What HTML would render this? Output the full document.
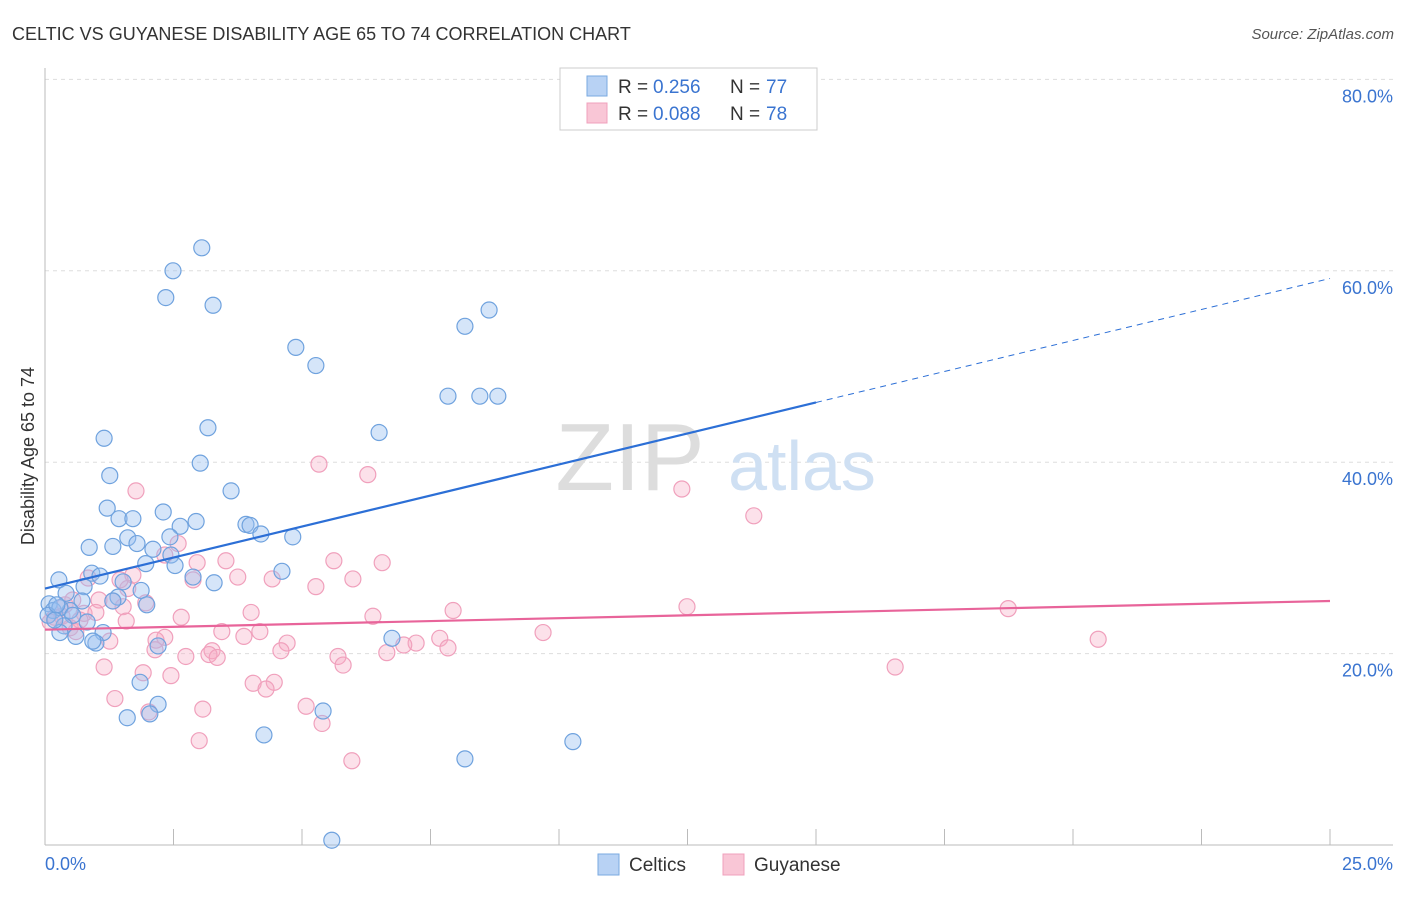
<!DOCTYPE html>
<html><head><meta charset="utf-8"><style>
body{margin:0;background:#fff;font-family:"Liberation Sans",sans-serif}
svg text{font-family:"Liberation Sans",sans-serif}
</style></head><body>
<svg width="1406" height="892" xmlns="http://www.w3.org/2000/svg">
<text x="12" y="40" font-size="18" fill="#333">CELTIC VS GUYANESE DISABILITY AGE 65 TO 74 CORRELATION CHART</text>
<text x="1394" y="39" font-size="15" fill="#555" font-style="italic" text-anchor="end">Source: ZipAtlas.com</text>
<g id="grid"></g>
<text x="630" y="490" font-size="96" fill="#ddd" font-family="Liberation Serif" text-anchor="middle">ZIP</text>
<text x="802" y="490" font-size="70" fill="#cfe0f3" text-anchor="middle">atlas</text>
<g id="pts"></g>
<g id="lines"></g>
<text transform="translate(34,456) rotate(-90)" font-size="18" fill="#333" text-anchor="middle">Disability Age 65 to 74</text>
<text x="45" y="870" font-size="18" fill="#3a74d0">0.0%</text>
<text x="1393" y="870" font-size="18" fill="#3a74d0" text-anchor="end">25.0%</text>
<g>
<rect x="560" y="68" width="257" height="62" fill="#fff" stroke="#ccc"/>
<rect x="587" y="76" width="20" height="20" fill="#b8d2f4" stroke="#7aaae0"/>
<rect x="587" y="103" width="20" height="20" fill="#f9c6d6" stroke="#f0a0bc"/>
<text x="618" y="93" font-size="19" fill="#333">R =</text>
<text x="653" y="93" font-size="19" fill="#3a74d0">0.256</text>
<text x="730" y="93" font-size="19" fill="#333">N =</text>
<text x="766" y="93" font-size="19" fill="#3a74d0">77</text>
<text x="618" y="120" font-size="19" fill="#333">R =</text>
<text x="653" y="120" font-size="19" fill="#3a74d0">0.088</text>
<text x="730" y="120" font-size="19" fill="#333">N =</text>
<text x="766" y="120" font-size="19" fill="#3a74d0">78</text>
</g>
<g>
<rect x="598" y="854" width="21" height="21" fill="#b8d2f4" stroke="#7aaae0"/>
<text x="629" y="871" font-size="19" fill="#333">Celtics</text>
<rect x="723" y="854" width="21" height="21" fill="#f9c6d6" stroke="#f0a0bc"/>
<text x="754" y="871" font-size="19" fill="#333">Guyanese</text>
</g>
</svg>
<script>
const blueX=[3.05,2.49,2.35,3.27,8.64,8.17,4.88,5.27,7.84,8.46,8.81,1.15,3.17,6.50,3.02,1.26,3.62,1.21,2.30,1.44,1.71,2.94,2.63,3.91,3.99,4.20,4.82,2.43,1.61,0.86,1.32,1.79,2.10,2.45,1.96,2.53,4.61,2.88,3.29,0.91,1.07,1.52,1.87,0.27,0.76,0.41,1.42,1.32,0.72,1.98,0.49,0.08,0.16,0.29,0.54,0.82,0.37,1.13,0.29,0.60,0.99,0.93,6.75,2.20,1.85,2.20,1.60,2.04,4.26,5.41,10.27,8.17,5.58,0.06,0.19,0.23];
const blueY=[62.4,60.0,57.2,56.4,55.9,54.2,52.0,50.1,46.9,46.9,46.9,42.5,43.6,43.1,39.9,38.6,37.0,35.2,34.8,34.1,34.1,33.8,33.3,33.5,33.4,32.5,32.2,32.2,32.1,31.1,31.2,31.5,30.9,30.3,29.4,29.2,28.6,28.0,27.4,28.4,28.1,27.5,26.6,27.7,27.0,26.3,25.9,25.5,25.5,25.1,24.5,25.2,24.5,24.8,24.0,23.3,22.9,22.2,22.2,21.8,21.1,21.3,21.6,20.8,17.0,14.7,13.3,13.7,11.5,14.0,10.8,9.0,0.5,24.0,23.5,25.1];
const pinkX=[5.33,6.28,12.39,1.77,13.79,2.59,3.52,2.96,5.62,6.56,2.33,3.75,2.88,4.42,5.99,5.27,1.71,0.84,1.61,1.05,1.32,1.52,1.96,2.65,4.01,6.38,7.94,12.49,18.74,1.58,0.76,3.44,4.18,2.33,2.16,3.87,4.71,7.22,7.68,7.84,9.69,20.49,2.14,3.25,3.19,2.74,4.59,5.70,6.65,6.98,3.35,5.80,1.15,1.91,2.45,4.05,4.46,4.30,16.54,1.36,5.08,3.07,2.02,5.39,3.00,5.97,0.33,0.49,0.60,0.99,0.68,0.19,0.39,0.10,1.26,1.46,0.54];
const pinkY=[39.8,38.7,37.2,37.0,34.4,31.5,29.7,29.5,29.7,29.5,30.3,28.0,27.7,27.8,27.8,27.0,28.2,27.9,26.8,25.6,25.5,24.9,25.3,23.8,24.3,23.9,24.5,24.9,24.7,23.4,24.2,22.3,22.3,21.7,21.4,21.8,21.1,21.1,21.6,20.6,22.2,21.5,20.4,20.3,19.9,19.7,20.3,19.7,20.1,20.9,19.6,18.8,18.6,18.0,17.7,16.9,17.0,16.3,18.6,15.3,14.5,14.2,13.9,12.7,10.9,8.8,23.9,22.7,22.3,24.3,23.5,23.8,25.1,23.3,21.3,27.7,25.6];
const blueTrend=[26.8,59.2];
const pinkTrend=[22.5,25.5];
const yTicks=[20,40,60,80];
const yTickLabels=["20.0%","40.0%","60.0%","80.0%"];
const xTicks=[0,2.5,5,7.5,10,12.5,15,17.5,20,22.5,25];
const NS="http://www.w3.org/2000/svg";
const sx=v=>45+v*51.4, sy=v=>845-v*9.57;
function mk(t,a,p){const e=document.createElementNS(NS,t);for(const k in a)e.setAttribute(k,a[k]);p.appendChild(e);return e;}
const grid=document.getElementById('grid');
yTicks.forEach((t,i)=>{
 const l=mk('line',{x1:45,x2:1393,y1:sy(t),y2:sy(t),stroke:'#ddd','stroke-dasharray':'4,4'},grid);
 
 
 const tx=mk('text',{x:1393,y:sy(t)+23,'font-size':18,fill:'#3a74d0','text-anchor':'end'},grid);
 tx.textContent=yTickLabels[i];
 
 
});
const ax=mk('line',{x1:45,x2:1393,y1:845,y2:845,stroke:'#bbb'},grid);


const ay=mk('line',{x1:45,x2:45,y1:68,y2:845,stroke:'#bbb'},grid);


xTicks.forEach(t=>{
 const l=mk('line',{x1:sx(t),x2:sx(t),y1:829,y2:845,stroke:'#bbb'},grid);
 
 
});
const pts=document.getElementById('pts');
pinkX.forEach((x,i)=>{
 const c=mk('circle',{cx:sx(x),cy:sy(pinkY[i]),r:8,fill:'rgba(245,170,195,0.35)',stroke:'#f0a0bc','stroke-width':1.2},pts);
 
 
});
blueX.forEach((x,i)=>{
 const c=mk('circle',{cx:sx(x),cy:sy(blueY[i]),r:8,fill:'rgba(150,190,240,0.4)',stroke:'#6fa2de','stroke-width':1.2},pts);
 
 
});
const lines=document.getElementById('lines');
const bAt=x=>blueTrend[0]+(blueTrend[1]-blueTrend[0])*x/25;
let l1=mk('line',{x1:sx(0),y1:sy(bAt(0)),x2:sx(15),y2:sy(bAt(15)),stroke:'#2c6fd6','stroke-width':2.2},lines);


let l2=mk('line',{x1:sx(15),y1:sy(bAt(15)),x2:sx(25),y2:sy(bAt(25)),stroke:'#2c6fd6','stroke-width':1,'stroke-dasharray':'6,5'},lines);


let l3=mk('line',{x1:sx(0),y1:sy(pinkTrend[0]),x2:sx(25),y2:sy(pinkTrend[1]),stroke:'#e8649a','stroke-width':2.2},lines);


</script>
</body></html>
